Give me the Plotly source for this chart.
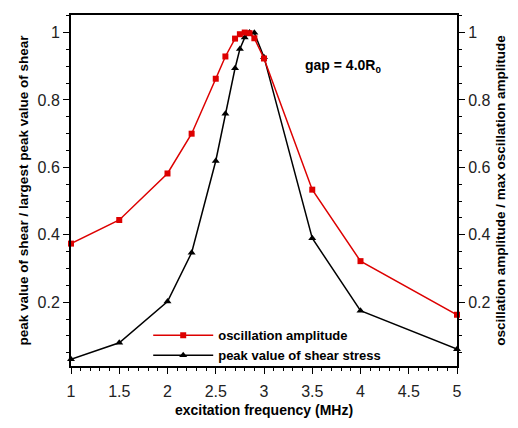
import plotly.graph_objects as go

# data
freq_amp = [1.0, 1.5, 2.0, 2.25, 2.5, 2.6, 2.7, 2.75, 2.8, 2.85, 2.9, 3.0, 3.5, 4.0, 5.0]
amp = [0.374, 0.444, 0.582, 0.700, 0.863, 0.929, 0.982, 0.995, 1.0, 0.998, 0.983, 0.923, 0.534, 0.322, 0.163]
freq_shear = [1.0, 1.5, 2.0, 2.25, 2.5, 2.6, 2.7, 2.75, 2.8, 2.85, 2.9, 3.0, 3.5, 4.0, 5.0]
shear = [0.031, 0.080, 0.202, 0.347, 0.619, 0.759, 0.894, 0.951, 0.985, 1.0, 0.999, 0.927, 0.390, 0.175, 0.061]
x_ticks = [1, 1.5, 2, 2.5, 3, 3.5, 4, 4.5, 5]
y_ticks = [0.2, 0.4, 0.6, 0.8, 1.0]

RED = "#dd0000"
FONT = "Liberation Sans, Arial, sans-serif"

fig = go.Figure()
fig.add_trace(go.Scatter(
    x=freq_amp, y=amp, yaxis="y2", mode="lines+markers",
    name="oscillation amplitude",
    line=dict(color=RED, width=1.5),
    marker=dict(symbol="square", size=6, color=RED),
    cliponaxis=False,
))
fig.add_trace(go.Scatter(
    x=freq_shear, y=shear, mode="lines+markers",
    name="peak value of shear stress",
    line=dict(color="black", width=1.5),
    marker=dict(symbol="triangle-up", size=7, color="black"),
    cliponaxis=False,
))

yr = [0.011, 1.052]
axis_common = dict(showgrid=False, zeroline=False, showline=True, linecolor="black",
                   linewidth=2, ticks="outside", ticklen=6, tickwidth=1, tickcolor="black",
                   tickfont=dict(family=FONT, size=16, color="#222"))

fig.update_layout(
    width=518, height=428,
    margin=dict(l=71, r=58, t=15, b=55),
    paper_bgcolor="white", plot_bgcolor="white",
    font=dict(family=FONT, color="black"),
    xaxis=dict(range=[1, 5], tickvals=x_ticks, ticktext=[f"{v:g}" for v in x_ticks],
               mirror=True, ticklabelstandoff=4,
               minor=dict(dtick=0.1, ticks="outside", ticklen=3, tickcolor="black"),
               title=dict(text="<b>excitation frequency (MHz)</b>", font=dict(family=FONT, size=14), standoff=6),
               **axis_common),
    yaxis=dict(range=yr, tickvals=y_ticks, ticktext=[f"{v:g}" for v in y_ticks],
               minor=dict(dtick=0.05, tick0=0, ticks="outside", ticklen=3, tickcolor="black"),
               title=dict(text="<b>peak value of shear / largest peak value of shear</b>",
                          font=dict(family=FONT, size=13.5), standoff=6),
               **axis_common),
    yaxis2=dict(range=yr, tickvals=y_ticks, ticktext=[f"{v:g}" for v in y_ticks],
                overlaying="y", side="right",
                minor=dict(dtick=0.05, tick0=0, ticks="outside", ticklen=3, tickcolor="black"),
                title=dict(text="<b>oscillation amplitude / max oscillation amplitude</b>",
                           font=dict(family=FONT, size=13.5), standoff=6),
                **axis_common),
    legend=dict(x=0.2, y=0.13, xanchor="left", yanchor="top",
                bgcolor="rgba(0,0,0,0)", font=dict(family=FONT, size=13, weight="bold"),
                tracegroupgap=0, itemwidth=60),
    showlegend=True,
    annotations=[dict(x=0.60, y=0.885, xref="paper", yref="paper", xanchor="left",
                      text="<b>gap = 4.0R<sub>0</sub></b>", showarrow=False,
                      font=dict(family=FONT, size=14, color="black"))],
)

fig.write_html("out.html")
